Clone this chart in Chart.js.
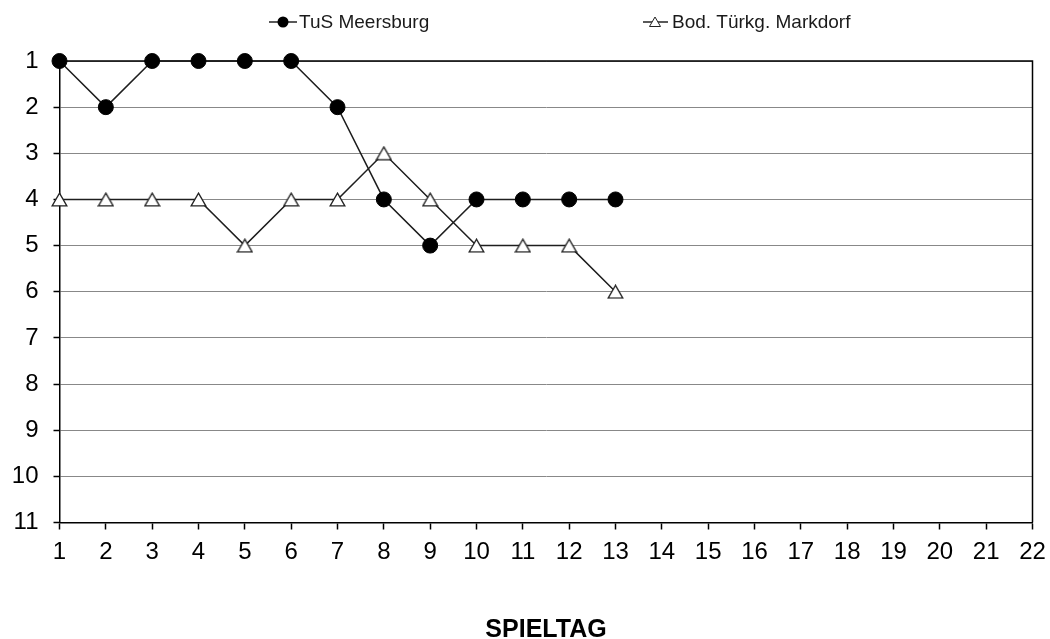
<!DOCTYPE html>
<html>
<head>
<meta charset="utf-8">
<script src="https://cdn.jsdelivr.net/npm/chart.js@4/dist/chart.umd.min.js"></script>
<style>
html,body{margin:0;padding:0;background:#fff;}
#wrap{width:1050px;height:639px;}
</style>
</head>
<body>
<div id="wrap"><canvas id="c" width="1050" height="639"></canvas></div>
<script>
const spieltage = ["1","2","3","4","5","6","7","8","9","10","11","12","13","14","15","16","17","18","19","20","21","22"];
const meersburgName = "TuS Meersburg";
const meersburg = [1,2,1,1,1,1,2,4,5,4,4,4,4];
const markdorfName = "Bod. Türkg. Markdorf";
const markdorf = [4,4,4,4,5,4,4,3,4,5,5,5,6];
const platzMin = 1;
const platzMax = 11;
const xTitle = "SPIELTAG";

const FONT = '"Liberation Sans", Arial, Helvetica, sans-serif';

function makeTriangle(w, h, lw) {
  const cv = document.createElement('canvas');
  cv.width = w; cv.height = h;
  const c = cv.getContext('2d');
  const p = lw / 2 + 0.5;
  c.fillStyle = '#fff';
  c.strokeStyle = '#222';
  c.lineWidth = lw;
  c.lineJoin = 'miter';
  c.beginPath();
  c.moveTo(w / 2, p);
  c.lineTo(w - p, h - p);
  c.lineTo(p, h - p);
  c.closePath();
  c.fill(); c.stroke();
  return cv;
}
const triPoint = makeTriangle(17, 15, 1.3);

const frame = {
  id: 'frame',
  beforeDatasetsDraw(chart) {
    const a = chart.chartArea, ctx = chart.ctx;
    ctx.save();
    ctx.strokeStyle = '#000';
    ctx.lineWidth = 1.5;
    ctx.beginPath();
    ctx.moveTo(a.left, a.top);
    ctx.lineTo(a.right, a.top);
    ctx.lineTo(a.right, a.bottom);
    ctx.stroke();
    ctx.restore();
  }
};

const customLegend = {
  id: 'customLegend',
  afterDraw(chart) {
    const ctx = chart.ctx;
    const y = 22;
    ctx.save();
    ctx.strokeStyle = '#222';
    ctx.lineWidth = 1.5;
    ctx.beginPath(); ctx.moveTo(269, y); ctx.lineTo(297, y); ctx.stroke();
    ctx.fillStyle = '#000';
    ctx.beginPath(); ctx.arc(283, y, 5.5, 0, Math.PI * 2); ctx.fill();
    ctx.beginPath(); ctx.moveTo(643, y); ctx.lineTo(668, y); ctx.stroke();
    ctx.fillStyle = '#fff';
    ctx.lineWidth = 1;
    ctx.beginPath();
    ctx.moveTo(655, y - 5);
    ctx.lineTo(660.5, y + 4.5);
    ctx.lineTo(649.5, y + 4.5);
    ctx.closePath();
    ctx.fill(); ctx.stroke();
    ctx.fillStyle = '#1a1a1a';
    ctx.font = '19px ' + FONT;
    ctx.textBaseline = 'middle';
    ctx.textAlign = 'left';
    ctx.fillText(meersburgName, 299, y + 1);
    ctx.fillText(markdorfName, 672, y + 1);
    ctx.restore();
  }
};

new Chart(document.getElementById('c'), {
  type: 'line',
  data: {
    labels: spieltage,
    datasets: [
      {
        label: meersburgName,
        data: meersburg,
        borderColor: '#1e1e1e',
        borderWidth: 1.5,
        pointStyle: 'circle',
        pointRadius: 7.5,
        pointBackgroundColor: '#000',
        pointBorderColor: '#000',
        pointBorderWidth: 1,
        tension: 0,
        clip: false
      },
      {
        label: markdorfName,
        data: markdorf,
        borderColor: '#1e1e1e',
        borderWidth: 1.5,
        pointStyle: triPoint,
        pointRadius: 8,
        tension: 0,
        clip: false
      }
    ]
  },
  options: {
    responsive: false,
    animation: false,
    layout: { padding: { top: 61, right: 17.5, bottom: 0, left: 0 } },
    plugins: { legend: { display: false }, tooltip: { enabled: false }, title: { display: false } },
    scales: {
      x: {
        type: 'category',
        offset: false,
        afterFit(s) { s.height = 116.5; s.paddingLeft = 0; s.paddingRight = 0; },
        grid: { display: true, drawOnChartArea: false, drawTicks: true, tickLength: 7, tickColor: '#000', tickWidth: 1.5 },
        border: { display: true, color: '#000', width: 1.5 },
        ticks: { color: '#000', font: { family: FONT, size: 24 }, padding: 8, maxRotation: 0, autoSkip: false },
        title: { display: true, text: xTitle, color: '#000', font: { family: FONT, size: 25, weight: 'bold', lineHeight: 0.75 }, padding: { top: 0, bottom: 0 } }
      },
      y: {
        type: 'linear',
        reverse: true,
        min: platzMin,
        max: platzMax,
        afterFit(s) { s.width = 59.5; s.paddingTop = 0; s.paddingBottom = 0; },
        grid: { color: '#888', lineWidth: 1, drawTicks: true, tickLength: 6, tickColor: '#000', tickWidth: 1.5 },
        border: { display: true, color: '#000', width: 1.5 },
        ticks: { stepSize: 1, color: '#000', font: { family: FONT, size: 24 }, padding: 15 }
      }
    }
  },
  plugins: [frame, customLegend]
});
</script>
</body>
</html>
